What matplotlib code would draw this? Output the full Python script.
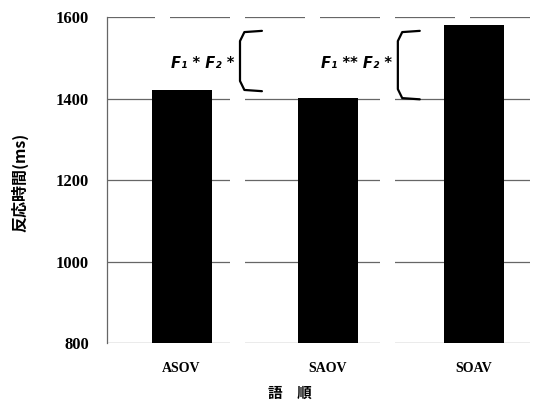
import matplotlib
matplotlib.use("Agg")
import matplotlib.pyplot as plt

categories = ["ASOV", "SAOV", "SOAV"]
values = [1422, 1402, 1580]
yticks = [800, 1000, 1200, 1400, 1600]
annotations = ["F\u2081 * F\u2082 *", "F\u2081 ** F\u2082 *"]
ylabel = "反応時間(ms)"
xlabel = "語　順"

fig = plt.figure(figsize=(5.44, 4.08), dpi=100)
ax = fig.add_axes([0.1967, 0.1593, 0.8033, 0.799])

x = list(range(len(categories)))
ax.bar(x, values, width=0.41, color="black", zorder=3, bottom=0)
ax.set_ylim(800, 1600)
ax.set_xlim(-0.51, 2.48)

for t in yticks:
    ax.axhline(t, color="#666666", lw=0.9, linestyle=(10, (48, 12)), zorder=1)

ax.set_yticks(yticks)
ax.set_yticklabels([str(t) for t in yticks], fontfamily="Liberation Serif",
                   fontweight="bold", fontsize=12)
ax.set_xticks(x)
ax.set_xticklabels(categories, fontfamily="Liberation Serif",
                   fontweight="bold", fontsize=10)
ax.tick_params(axis="y", length=0, pad=13)
ax.tick_params(axis="x", length=0, pad=14)

for s in ["top", "right", "bottom"]:
    ax.spines[s].set_visible(False)
ax.spines["left"].set_color("#666666")
ax.spines["left"].set_linewidth(0.9)

# significance brackets and labels
for i, lab in enumerate(annotations):
    xv = i + 0.40 + 0.08 * i
    y0 = values[i] - 4
    y1 = 1566
    ax.plot([xv + 0.15, xv + 0.03, xv, xv, xv + 0.03, xv + 0.15],
            [y1, y1 - 3, y1 - 25, y0 + 25, y0 + 3, y0],
            color="black", lw=1.6, zorder=4, solid_capstyle="round",
            solid_joinstyle="round")
    ax.text(xv - 0.04, 1487, lab, ha="right", va="center",
            fontfamily="DejaVu Sans", fontweight="bold", fontstyle="italic",
            fontsize=10.5)

fig.text(20 / 544, 1 - 182 / 408, ylabel, rotation=90, ha="center", va="center",
         fontfamily=["Noto Sans CJK JP", "DejaVu Sans"], fontweight="bold",
         fontsize=11.5)
fig.text(290 / 544, 1 - 393 / 408, xlabel, ha="center", va="center",
         fontfamily=["Noto Sans CJK JP", "DejaVu Sans"], fontweight="bold",
         fontsize=10.5)

fig.savefig("out.png", dpi=100)
